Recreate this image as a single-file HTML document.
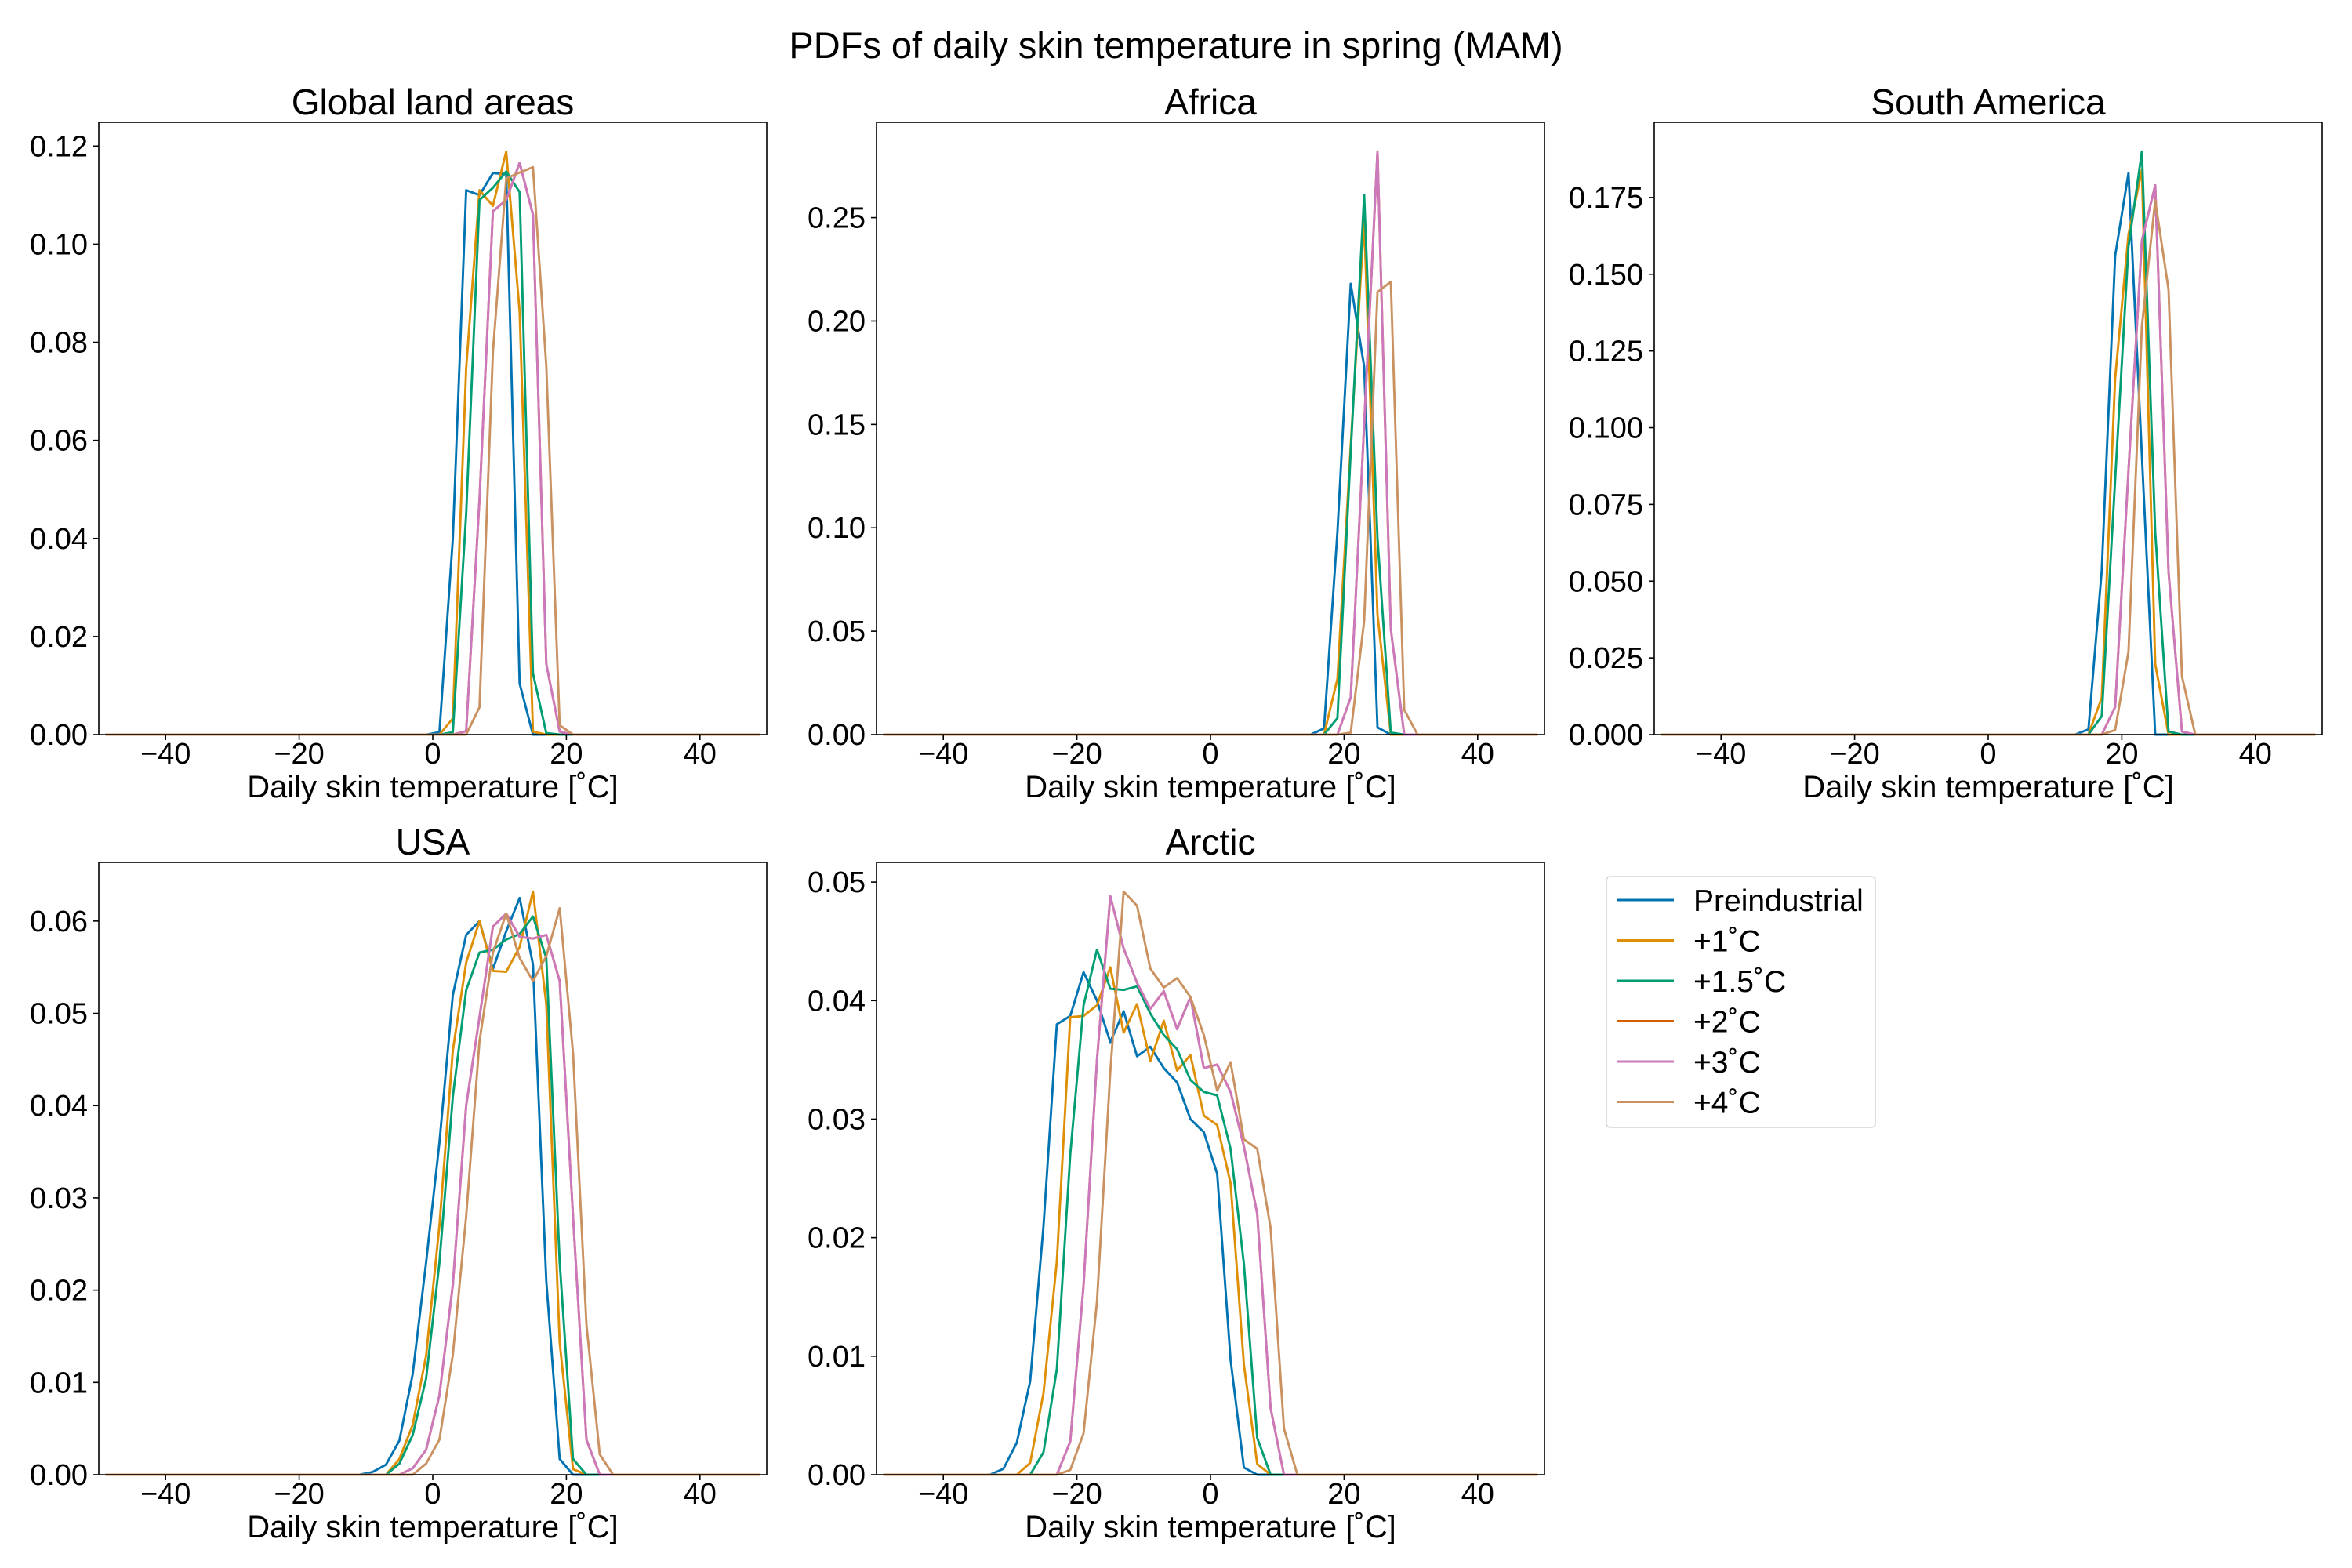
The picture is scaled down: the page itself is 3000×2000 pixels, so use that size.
<!DOCTYPE html>
<html><head><meta charset="utf-8">
<style>
html,body{margin:0;padding:0;background:#fff;}
svg{display:block;font-family:"Liberation Sans","DejaVu Sans",sans-serif;}
</style></head>
<body>
<svg id="fig" width="3000" height="2000" viewBox="0 0 3000 2000" xmlns="http://www.w3.org/2000/svg">
<rect width="3000" height="2000" fill="#fff"/>
<text x="1500" y="74" font-size="47" text-anchor="middle">PDFs of daily skin temperature in spring (MAM)</text>
<g id="panels"></g>
<g id="legend"></g>
</svg>
<script>
// Temperature bin centres (°C) - odd values from -49 to 49
const temps = [];
for (let t = -49; t <= 49; t += 2) temps.push(t);
const xTicks = [-40, -20, 0, 20, 40];
const xTickLabels = ["\u221240", "\u221220", "0", "20", "40"];
const seriesNames = ["Preindustrial", "+1\u02daC", "+1.5\u02daC", "+2\u02daC", "+3\u02daC", "+4\u02daC"];
const seriesColors = ["#0173b2", "#de8f05", "#029e73", "#d55e00", "#cc78bc", "#ca9161"];

// Each series: first nonzero-region temperature, then values (zero elsewhere)
// Global land areas
const globStart = [-1, 1, 1, 3, 3, 5];
const globPre  = [0, 0.0005, 0.040, 0.111, 0.110, 0.1145, 0.1143, 0.0104, 0];
const globP1   = [0, 0.0033, 0.0747, 0.111, 0.1078, 0.1189, 0.0862, 0.0006, 0];
const globP15  = [0, 0.0005, 0.045, 0.109, 0.1115, 0.1148, 0.1106, 0.0125, 0.0003, 0];
const globP2   = [0, 0.0007, 0.048, 0.1067, 0.109, 0.1166, 0.106, 0.0144, 0.0006, 0];
const globP3   = [0, 0.0007, 0.048, 0.1067, 0.109, 0.1166, 0.106, 0.0144, 0.0006, 0];
const globP4   = [0, 0.0056, 0.078, 0.1134, 0.1146, 0.1157, 0.0752, 0.0019, 0];
// Africa
const afrStart = [15, 17, 17, 19, 19, 21];
const afrPre  = [0, 0.003, 0.098, 0.218, 0.178, 0.0035, 0];
const afrP1   = [0, 0.027, 0.14, 0.249, 0.058, 0];
const afrP15  = [0, 0.008, 0.137, 0.261, 0.095, 0.001, 0];
const afrP2   = [0, 0.018, 0.15, 0.282, 0.051, 0];
const afrP3   = [0, 0.018, 0.15, 0.282, 0.051, 0];
const afrP4   = [0.001, 0.055, 0.214, 0.219, 0.012, 0];
// South America
const saStart = [13, 15, 15, 17, 17, 19];
const saPre  = [0, 0.0017, 0.0535, 0.156, 0.183, 0.091, 0];
const saP1   = [0, 0.012, 0.116, 0.163, 0.184, 0.023, 0];
const saP15  = [0, 0.006, 0.083, 0.159, 0.190, 0.066, 0.001, 0];
const saP2   = [0, 0.009, 0.086, 0.161, 0.179, 0.053, 0.001, 0];
const saP3   = [0, 0.009, 0.086, 0.161, 0.179, 0.053, 0.001, 0];
const saP4   = [0.0015, 0.027, 0.133, 0.174, 0.145, 0.019, 0];
// USA
const usaStart = [-11, -9, -7, -5, -5, -5];
const usaPre  = [0, 0.0003, 0.0011, 0.0037, 0.0109, 0.023, 0.036, 0.052, 0.0585, 0.060, 0.0548, 0.0589, 0.0625, 0.0553, 0.021, 0.0017, 0];
const usaP1   = [0, 0, 0.0017, 0.0054, 0.0129, 0.027, 0.046, 0.0555, 0.060, 0.0546, 0.0545, 0.0572, 0.0632, 0.051, 0.0143, 0.0006, 0];
const usaP15  = [0, 0.0012, 0.0043, 0.0104, 0.023, 0.041, 0.0525, 0.0566, 0.0569, 0.058, 0.0586, 0.0605, 0.056, 0.023, 0.0017, 0];
const usaP2   = [0, 0.0007, 0.0027, 0.0086, 0.0206, 0.040, 0.0496, 0.0594, 0.0608, 0.0583, 0.0581, 0.0585, 0.0535, 0.028, 0.0038, 0];
const usaP3   = [0, 0.0007, 0.0027, 0.0086, 0.0206, 0.040, 0.0496, 0.0594, 0.0608, 0.0583, 0.0581, 0.0585, 0.0535, 0.028, 0.0038, 0];
const usaP4   = [0, 0, 0.0012, 0.0038, 0.013, 0.028, 0.047, 0.0566, 0.0608, 0.056, 0.0535, 0.0562, 0.0614, 0.0457, 0.0163, 0.0022, 0];
// Arctic
const arcStart = [-35, -31, -29, -25, -25, -23];
const arcPre  = [0, 0, 0.0005, 0.0027, 0.0079, 0.021, 0.038, 0.0387, 0.0424, 0.040, 0.0365, 0.0391, 0.0353, 0.0361, 0.0343, 0.0331, 0.030, 0.0289, 0.0254, 0.0097, 0.0006, 0];
const arcP1   = [0, 0, 0.001, 0.0069, 0.018, 0.0386, 0.0387, 0.0396, 0.0428, 0.0373, 0.0397, 0.0349, 0.0383, 0.0341, 0.0354, 0.0303, 0.0295, 0.0246, 0.0093, 0.0009, 0];
const arcP15  = [0, 0, 0.0019, 0.0089, 0.027, 0.0396, 0.0443, 0.041, 0.0409, 0.0412, 0.0389, 0.0371, 0.0359, 0.0333, 0.0323, 0.032, 0.0275, 0.0178, 0.0031, 0, 0];
const arcP2   = [0, 0, 0.0028, 0.016, 0.035, 0.0488, 0.0444, 0.0415, 0.0393, 0.0408, 0.0376, 0.0403, 0.0343, 0.0346, 0.0323, 0.0277, 0.022, 0.0056, 0, 0];
const arcP3   = [0, 0, 0.0028, 0.016, 0.035, 0.0488, 0.0444, 0.0415, 0.0393, 0.0408, 0.0376, 0.0403, 0.0343, 0.0346, 0.0323, 0.0277, 0.022, 0.0056, 0, 0];
const arcP4   = [0, 0.0004, 0.0035, 0.0146, 0.034, 0.0492, 0.048, 0.0427, 0.0411, 0.0419, 0.0403, 0.0371, 0.0324, 0.0348, 0.0283, 0.0275, 0.0208, 0.0039, 0, 0];

const globYTicks = [0, 0.02, 0.04, 0.06, 0.08, 0.10, 0.12];
const afrYTicks = [0, 0.05, 0.10, 0.15, 0.20, 0.25];
const saYTicks = [0, 0.025, 0.05, 0.075, 0.10, 0.125, 0.15, 0.175];
const usaYTicks = [0, 0.01, 0.02, 0.03, 0.04, 0.05, 0.06];
const arcYTicks = [0, 0.01, 0.02, 0.03, 0.04, 0.05];

const NS = "http://www.w3.org/2000/svg";
function mk(tag, attrs, parent) {
  const e = document.createElementNS(NS, tag);
  for (const k in attrs) e.setAttribute(k, attrs[k]);
  if (parent) parent.appendChild(e);
  return e;
}
function fullSeries(start, vals) {
  return temps.map(t => {
    const i = (t - start) / 2;
    return (i >= 0 && i < vals.length) ? vals[i] : 0;
  });
}

const panels = [
  {name: "Global land areas", key: "global", left: 126, top: 156, starts: globStart, series: [globPre, globP1, globP15, globP2, globP3, globP4], yt: globYTicks, dec: 2},
  {name: "Africa", key: "africa", left: 1118, top: 156, starts: afrStart, series: [afrPre, afrP1, afrP15, afrP2, afrP3, afrP4], yt: afrYTicks, dec: 2},
  {name: "South America", key: "south-america", left: 2110, top: 156, starts: saStart, series: [saPre, saP1, saP15, saP2, saP3, saP4], yt: saYTicks, dec: 3},
  {name: "USA", key: "usa", left: 126, top: 1100, starts: usaStart, series: [usaPre, usaP1, usaP15, usaP2, usaP3, usaP4], yt: usaYTicks, dec: 2},
  {name: "Arctic", key: "arctic", left: 1118, top: 1100, starts: arcStart, series: [arcPre, arcP1, arcP15, arcP2, arcP3, arcP4], yt: arcYTicks, dec: 2}
];
const W = 852, H = 781;
const root = document.getElementById("panels");

panels.forEach(p => {
  const g = mk("g", {}, root);
  
  
  const full = p.series.map((v, i) => fullSeries(p.starts[i], v));
  let ymax = 0;
  full.forEach(s => s.forEach(v => { if (v > ymax) ymax = v; }));
  const ylim = ymax * 1.05;
  const xs = t => p.left + (t + 50) / 100 * W;
  const ys = v => p.top + H - v / ylim * H;

  const tt = mk("text", {x: p.left + W / 2, y: p.top - 10, "font-size": 46, "text-anchor": "middle"}, g);
  tt.textContent = p.name;
  
  

  const sg = mk("g", {}, g);
  
  
  full.forEach((s, i) => {
    const d = s.map((v, j) => (j ? "L" : "M") + xs(temps[j]).toFixed(1) + "," + ys(v).toFixed(1)).join(" ");
    const pl = mk("path", {d: d, fill: "none", stroke: seriesColors[i], "stroke-width": 2.9, "stroke-linejoin": "round"}, sg);
    
    
  });

  const fr = mk("rect", {x: p.left, y: p.top, width: W, height: H, fill: "none", stroke: "#000", "stroke-width": 1.6}, g);
  
  

  const xg = mk("g", {}, g);
  
  
  xTicks.forEach((t, i) => {
    const x = xs(t);
    mk("line", {x1: x, x2: x, y1: p.top + H, y2: p.top + H + 7, stroke: "#000", "stroke-width": 1.6}, xg);
    const tx = mk("text", {x: x, y: p.top + H + 37, "font-size": 38, "text-anchor": "middle"}, xg);
    tx.textContent = xTickLabels[i];
    
    
  });
  const xl = mk("text", {x: p.left + W / 2, y: p.top + H + 80, "font-size": 40, "text-anchor": "middle"}, xg);
  xl.textContent = "Daily skin temperature [\u02daC]";
  
  

  const yg = mk("g", {}, g);
  
  
  p.yt.forEach(v => {
    const y = ys(v);
    mk("line", {x1: p.left - 7, x2: p.left, y1: y, y2: y, stroke: "#000", "stroke-width": 1.6}, yg);
    const tx = mk("text", {x: p.left - 14, y: y + 13, "font-size": 38, "text-anchor": "end"}, yg);
    tx.textContent = v.toFixed(p.dec);
    
    
  });
});

const lg = document.getElementById("legend");
mk("rect", {x: 2049, y: 1118, width: 343, height: 320, rx: 5, fill: "#fff", stroke: "#d6d6d6", "stroke-width": 1.6}, lg);
seriesNames.forEach((n, i) => {
  const y = 1148 + i * 51.5;
  const ln = mk("line", {x1: 2063, x2: 2135, y1: y, y2: y, stroke: seriesColors[i], "stroke-width": 2.9}, lg);
  
  
  const tx = mk("text", {x: 2160, y: y + 14, "font-size": 39}, lg);
  tx.textContent = n;
  
  
});
</script>
</body></html>
